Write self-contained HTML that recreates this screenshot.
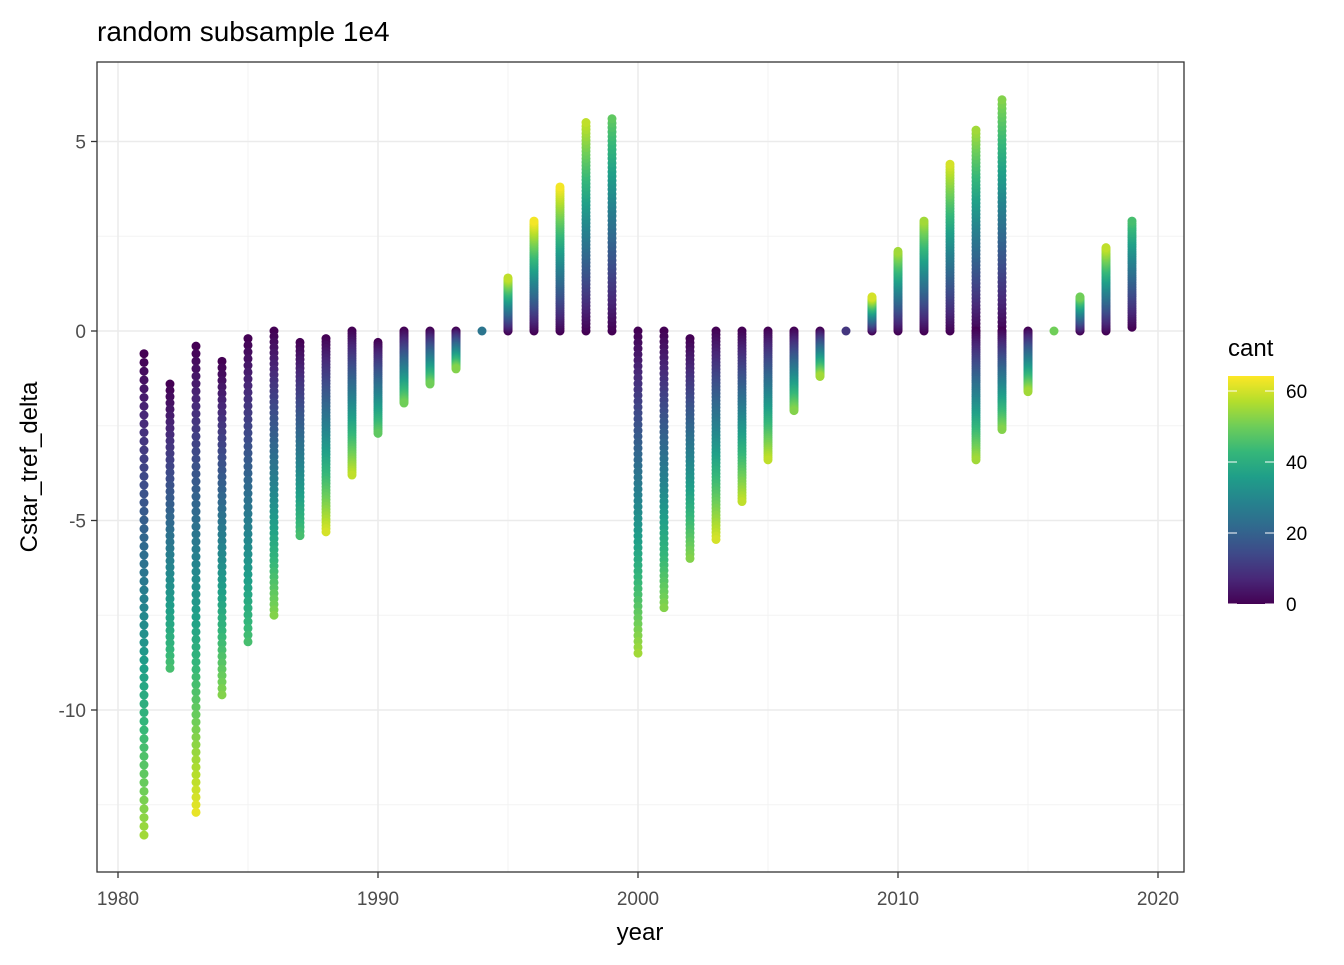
<!DOCTYPE html>
<html><head><meta charset="utf-8"><style>
body{margin:0;background:#fff;font-family:"Liberation Sans",Arial,sans-serif;}
svg text{font-family:"Liberation Sans",Arial,sans-serif;}
</style></head><body>
<svg id="c" width="1344" height="960" xmlns="http://www.w3.org/2000/svg">
<defs><linearGradient id="vg" x1="0" y1="1" x2="0" y2="0">
<stop offset="0" stop-color="#440154"/><stop offset="0.111" stop-color="#482878"/><stop offset="0.222" stop-color="#3E4A89"/><stop offset="0.333" stop-color="#31688E"/><stop offset="0.444" stop-color="#26828E"/><stop offset="0.556" stop-color="#1F9E89"/><stop offset="0.667" stop-color="#35B779"/><stop offset="0.778" stop-color="#6DCD59"/><stop offset="0.889" stop-color="#B4DE2C"/><stop offset="1" stop-color="#FDE725"/></linearGradient></defs>
</svg>
<script>
const years=[1981,1982,1983,1984,1985,1986,1987,1988,1989,1990,1991,1992,1993,1994,1995,1996,1997,1998,1999,2000,2001,2002,2003,2004,2005,2006,2007,2008,2009,2010,2011,2012,2013,2014,2015,2016,2017,2018,2019];
const extremes=[-13.3,-8.9,-12.7,-9.6,-8.2,-7.5,-5.4,-5.3,-3.8,-2.7,-1.9,-1.4,-1.0,0,1.4,2.9,3.8,5.5,5.6,-8.5,-7.3,-6.0,-5.5,-4.5,-3.4,-2.1,-1.2,0,0.9,2.1,2.9,4.4,5.3,6.1,-1.6,0,0.9,2.2,2.9];
const startValues=[-0.6,-1.4,-0.4,-0.8,-0.2,0,-0.3,-0.2,0,-0.3,0,0,0,0,0,0,0,0,0,0,0,-0.2,0,0,0,0,0,0,0,0,0,0,0,0,0,0,0,0,0.1];
const secondExtremes=[0,0,0,0,0,0,0,0,0,0,0,0,0,0,0,0,0,0,0,0,0,0,0,0,0,0,0,0,0,0,0,0,-3.4,-2.6,0,0,0,0,0];
const maxCant=[55,45,62,52,45,52,45,60,58,48,50,50,52,25,58,63,63,58,48,55,52,52,60,58,58,52,55,10,60,55,55,60,55,52,55,50,50,58,45];
const xTicks=[1980,1990,2000,2010,2020];
const yTicks=[-10,-5,0,5];
const cantTicks=[0,20,40,60];

const NS="http://www.w3.org/2000/svg";
const svg=document.getElementById('c');
const X=y=>118+(y-1980)*26;
const Y=v=>331-v*37.9;
const CY=c=>604-c*3.55;
const stops=["#440154","#482878","#3E4A89","#31688E","#26828E","#1F9E89","#35B779","#6DCD59","#B4DE2C","#FDE725"].map(h=>[parseInt(h.slice(1,3),16),parseInt(h.slice(3,5),16),parseInt(h.slice(5,7),16)]);
function vir(c){let t=Math.max(0,Math.min(1,c/64))*(stops.length-1);let i=Math.min(stops.length-2,Math.floor(t)),f=t-i;const a=stops[i],b=stops[i+1];return `rgb(${Math.round(a[0]+(b[0]-a[0])*f)},${Math.round(a[1]+(b[1]-a[1])*f)},${Math.round(a[2]+(b[2]-a[2])*f)})`;}
function mk(tag,attrs,parent){const e=document.createElementNS(NS,tag);for(const k in attrs)e.setAttribute(k,attrs[k]);(parent||svg).appendChild(e);return e;}
function txt(s,attrs){const e=mk('text',attrs);e.textContent=s;return e;}

const panel=mk('rect',{x:97,y:62,width:1087,height:810,fill:'#fff'});


const grid=mk('g',{});


for(let y=1985;y<=2015;y+=10)mk('line',{x1:X(y),x2:X(y),y1:62,y2:872,stroke:'#f3f3f3','stroke-width':1},grid);
for(const v of [-12.5,-7.5,-2.5,2.5])mk('line',{x1:97,x2:1184,y1:Y(v),y2:Y(v),stroke:'#f3f3f3','stroke-width':1},grid);
for(const y of xTicks)mk('line',{x1:X(y),x2:X(y),y1:62,y2:872,stroke:'#ebebeb','stroke-width':1.5},grid);
for(const v of yTicks)mk('line',{x1:97,x2:1184,y1:Y(v),y2:Y(v),stroke:'#ebebeb','stroke-width':1.5},grid);

const pts=mk('g',{});


years.forEach((yr,i)=>{
  const mc=maxCant[i];
  [extremes[i],secondExtremes[i]].forEach((ext,k)=>{
    if(k===1&&ext===0)return;
    const st=k===0?startValues[i]:0;
    if(ext===0){const p=mk('circle',{cx:X(yr),cy:Y(0),r:4.5,fill:vir(mc)},pts);return;}
    for(let c=0;c<=mc;c+=1){
      const v=st+(ext-st)*c/mc;
      const p=mk('circle',{cx:X(yr),cy:Y(v),r:4.5,fill:vir(c)},pts);
      
      
    }
  });
});

const border=mk('rect',{x:97,y:62,width:1087,height:810,fill:'none',stroke:'#333','stroke-width':1.3});


for(const y of xTicks){mk('line',{x1:X(y),x2:X(y),y1:872,y2:878,stroke:'#333','stroke-width':1.3});
 const t=txt(String(y),{x:X(y),y:905,'text-anchor':'middle','font-size':19,fill:'#4d4d4d'});}
for(const v of yTicks){mk('line',{x1:91,x2:97,y1:Y(v),y2:Y(v),stroke:'#333','stroke-width':1.3});
 const t=txt(String(v),{x:86,y:Y(v)+7,'text-anchor':'end','font-size':19,fill:'#4d4d4d'});}

let t=txt('random subsample 1e4',{x:97,y:41,'font-size':28,fill:'#000'});
t=txt('year',{x:640,y:940,'text-anchor':'middle','font-size':24,fill:'#000'});
t=txt('Cstar_tref_delta',{x:0,y:0,'text-anchor':'middle','font-size':24,fill:'#000',transform:'translate(37,467) rotate(-90)'});

t=txt('cant',{x:1228,y:356,'font-size':24,fill:'#000'});
const cb=mk('rect',{x:1228,y:376,width:46,height:228,fill:'url(#vg)'});


for(const c of cantTicks){mk('line',{x1:1228,x2:1237,y1:CY(c),y2:CY(c),stroke:'#fff','stroke-width':1});mk('line',{x1:1265,x2:1274,y1:CY(c),y2:CY(c),stroke:'#fff','stroke-width':1});
 const l=txt(String(c),{x:1286,y:CY(c)+7,'font-size':19,fill:'#000'});}
</script>
</body></html>
